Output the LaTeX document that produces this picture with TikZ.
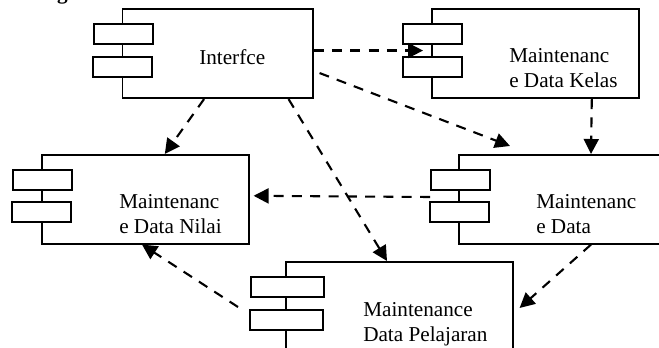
\documentclass[tikz,border=0pt]{standalone}
\usepackage{fontspec}
\setmainfont{Liberation Serif}
\usetikzlibrary{arrows.meta}
\tikzset{
	comp/.style={draw,line width=1.6*.75pt,inner sep=0pt,minimum height=89*.75pt,anchor=north west},
	port/.style={draw,line width=2*.75pt,fill=white,inner sep=0pt,minimum height=20*.75pt,anchor=north west},
	dep/.style={-{Triangle[length=15*.75pt,width=15*.75pt]},line width=2.1*.75pt,dash pattern=on 10*.75pt off 8.3*.75pt},
	lbl/.style={inner sep=0pt,anchor=base west,align=left,font=\fontsize{15.9pt}{18.8pt}\selectfont}
}
\begin{document}
\begin{tikzpicture}[x=.75pt,y=-.75pt,line join=miter]
	\useasboundingbox (0,0) rectangle (659,348);
	\clip (0,0) rectangle (659,348);
	\node[inner sep=0pt,anchor=base west,font=\fontsize{15.9pt}{18.8pt}\selectfont\bfseries] (title) at (25,0) {Diagram};
	% boxes
	\node[comp,minimum width=190.5*.75pt] (iface) at (121.5,8.5) {};
	\node[comp,minimum width=207*.75pt] (kelas) at (431,8.5) {};
	\node[comp,minimum width=207*.75pt] (nilai) at (41,154) {};
	\node[comp,minimum width=260*.75pt] (data) at (458,154) {};
	\node[comp,minimum width=227*.75pt,minimum height=130*.75pt] (pelajaran) at (285,261) {};
	% ports
	\node[port,minimum width=59*.75pt] (ifaceA) at (92.5,23) {};
	\node[port,minimum width=59*.75pt] (ifaceB) at (92,56) {};
	\node[port,minimum width=59*.75pt] (kelasA) at (402,23) {};
	\node[port,minimum width=59*.75pt] (kelasB) at (401.5,56) {};
	\node[port,minimum width=59*.75pt] (nilaiA) at (12,169) {};
	\node[port,minimum width=59*.75pt] (nilaiB) at (11,201.5) {};
	\node[port,minimum width=59*.75pt] (dataA) at (430,169) {};
	\node[port,minimum width=59*.75pt] (dataB) at (428.5,201.5) {};
	\node[port,minimum width=73*.75pt] (pelajaranA) at (249.5,276) {};
	\node[port,minimum width=73*.75pt] (pelajaranB) at (248.5,309) {};
	% texts
	\node[lbl] (ifaceT) at (199,64.5) {Interfce};
	\node[lbl] (kelasT) at (509,63) {Maintenanc};
	\node[lbl] (kelasU) at (509,88) {e Data Kelas};
	\node[lbl] (nilaiT) at (119,209) {Maintenanc};
	\node[lbl] (nilaiU) at (119,234) {e Data Nilai};
	\node[lbl] (dataT) at (536,209) {Maintenanc};
	\node[lbl] (dataU) at (536,234) {e Data};
	\node[lbl] (pelajaranT) at (363,316) {Maintenance};
	\node[lbl] (pelajaranU) at (363,341) {Data Pelajaran};
	% dependencies
	\draw[dep] ([xshift=-13.5*.75pt]iface.south) -- ([xshift=19.5*.75pt]nilai.north);
	\draw[dep] ([yshift=3.25*.75pt]iface.east) -- ([xshift=-8*.75pt,yshift=3.25*.75pt]kelas.west);
	\draw[dep] ([xshift=6*.75pt,yshift=-19.25*.75pt]iface.east) -- ([xshift=52*.75pt,yshift=8*.75pt]data.north west);
	\draw[dep] ([xshift=71*.75pt]iface.south) -- ([xshift=102*.75pt]pelajaran.north west);
	\draw[dep] ([xshift=56.5*.75pt]kelas.south) -- ([xshift=133*.75pt]data.north west);
	\draw[dep] ([yshift=-6*.75pt]dataA.south west) -- ([xshift=4*.75pt,yshift=3.5*.75pt]nilai.east);
	\draw[dep] ([xshift=133*.75pt]data.south west) -- ([xshift=6*.75pt,yshift=-47*.75pt]pelajaran.north east);
	\draw[dep] ([xshift=-47*.75pt,yshift=-46*.75pt]pelajaran.north west) -- ([xshift=101*.75pt]nilai.south west);
\end{tikzpicture}
\end{document}
